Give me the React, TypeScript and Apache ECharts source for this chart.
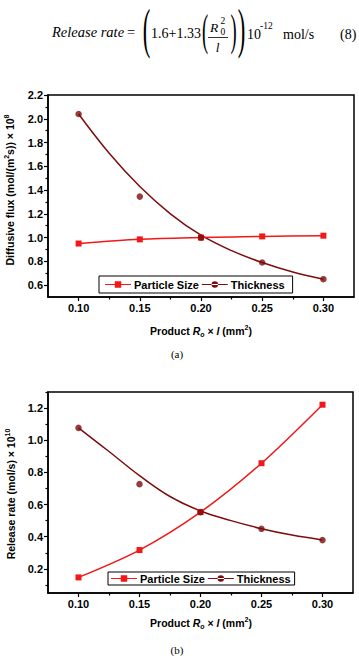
import React, { useEffect, useRef } from 'react';
import * as echarts from 'echarts';

// ---- data ----
const productX = [0.10, 0.15, 0.20, 0.25, 0.30];
const fitX = [0.100, 0.125, 0.150, 0.175, 0.200, 0.225, 0.250, 0.275, 0.300];

const fluxParticleSize = [0.95, 0.985, 1.0, 1.01, 1.016];
const fluxThickness = [2.04, 1.345, 1.0, 0.79, 0.65];
const fluxThicknessFit = [2.04, 1.71, 1.43, 1.20, 1.02, 0.89, 0.79, 0.71, 0.65];

const rateParticleSize = [0.147, 0.317, 0.553, 0.857, 1.221];
const rateThickness = [1.077, 0.727, 0.553, 0.449, 0.379];
const rateThicknessFit = [1.077, 0.93, 0.78, 0.65, 0.56, 0.50, 0.45, 0.41, 0.38];

const xMajorTicks = [0.10, 0.15, 0.20, 0.25, 0.30];
const xMinorTicks = [0.125, 0.175, 0.225, 0.275];
const fluxMajorTicks = [0.6, 0.8, 1.0, 1.2, 1.4, 1.6, 1.8, 2.0, 2.2];
const fluxMinorTicks = [0.7, 0.9, 1.1, 1.3, 1.5, 1.7, 1.9, 2.1];
const rateMajorTicks = [0.2, 0.4, 0.6, 0.8, 1.0, 1.2];
const rateMinorTicks = [0.1, 0.3, 0.5, 0.7, 0.9, 1.1, 1.3];

const seriesNames = ['Particle Size', 'Thickness'];

const SANS = 'Arial, "Liberation Sans", Helvetica, sans-serif';
const SERIF = '"Times New Roman", "Liberation Serif", Times, serif';
const PS_COLOR = '#f01818';
const TH_COLOR = '#7d0d0d';

const SQ_ICON = 'path://M0,3.4h28v1.2H0z M10.5,0.5h7v7h-7z';
const CI_ICON = 'path://M0,3.4h28v1.2H0z M10.5,4a3.5,3.5 0 1,0 7,0a3.5,3.5 0 1,0 -7,0z';

const pairs = (xs: number[], ys: number[]) => xs.map((x, i) => [x, ys[i]]);

function xAxesFor(gridIndex: number) {
  return [
    {
      type: 'value', gridIndex, min: 0.075, max: 0.325, position: 'bottom',
      axisLine: { show: true, onZero: false, lineStyle: { color: '#000', width: 1.5 } },
      axisTick: { show: true, length: 4, customValues: xMajorTicks, lineStyle: { color: '#000', width: 1.2 } },
      axisLabel: {
        customValues: xMajorTicks, formatter: (v: number) => v.toFixed(2), margin: 5,
        fontSize: 11, fontWeight: 'bold', fontFamily: SANS, color: '#000',
      },
      splitLine: { show: false },
    },
    {
      type: 'value', gridIndex, min: 0.075, max: 0.325, position: 'bottom',
      axisLine: { show: false, onZero: false },
      axisTick: { show: true, length: 2.5, customValues: xMinorTicks, lineStyle: { color: '#000', width: 1.2 } },
      axisLabel: { show: false },
      splitLine: { show: false },
    },
  ];
}

function yAxesFor(gridIndex: number, min: number, max: number, major: number[], minor: number[]) {
  return [
    {
      type: 'value', gridIndex, min, max, position: 'left',
      axisLine: { show: true, onZero: false, lineStyle: { color: '#000', width: 1.5 } },
      axisTick: { show: true, length: 4, customValues: major, lineStyle: { color: '#000', width: 1.2 } },
      axisLabel: {
        customValues: major, formatter: (v: number) => v.toFixed(1), margin: 5,
        fontSize: 11, fontWeight: 'bold', fontFamily: SANS, color: '#000',
      },
      splitLine: { show: false },
    },
    {
      type: 'value', gridIndex, min, max, position: 'left',
      axisLine: { show: false, onZero: false },
      axisTick: { show: true, length: 2.5, customValues: minor, lineStyle: { color: '#000', width: 1.2 } },
      axisLabel: { show: false },
      splitLine: { show: false },
    },
  ];
}

function legendFor(left: number, top: number, padding: number[]) {
  return {
    left, top, orient: 'horizontal', selectedMode: false,
    data: [
      { name: seriesNames[0], icon: SQ_ICON },
      { name: seriesNames[1], icon: CI_ICON },
    ],
    itemWidth: 26, itemHeight: 8, itemGap: 3, padding,
    borderColor: '#000', borderWidth: 1, backgroundColor: '#fff',
    textStyle: { fontFamily: SANS, fontWeight: 'bold', fontSize: 11, color: '#000', padding: [0, 0, 0, -2] },
  };
}

const richSans = {
  b: { fontFamily: SANS, fontWeight: 'bold', fontSize: 10.5, lineHeight: 14, color: '#000' },
  i: { fontFamily: SANS, fontWeight: 'bold', fontStyle: 'italic', fontSize: 10.5, lineHeight: 14, color: '#000' },
  sup: { fontFamily: SANS, fontWeight: 'bold', fontSize: 7, lineHeight: 8, verticalAlign: 'top', color: '#000' },
  sub: { fontFamily: SANS, fontWeight: 'bold', fontStyle: 'italic', fontSize: 7, lineHeight: 8, verticalAlign: 'bottom', color: '#000' },
};

const xTitle = '{b|Product }{i|R}{sub|o}{b| × }{i|l}{b| (mm}{sup|2}{b|)}';

function serifText(text: string, x: number, y: number, size: number, opts: any = {}) {
  return {
    type: 'text', x, y, scaleX: opts.scaleX ?? 1, scaleY: opts.scaleY ?? 1,
    style: {
      text, fontFamily: SERIF, fontSize: size, fontStyle: opts.italic ? 'italic' : 'normal',
      fill: '#000', align: opts.align ?? 'left', verticalAlign: 'middle',
    },
  };
}

export default function App() {
  const ref = useRef<HTMLDivElement>(null);
  useEffect(() => {
    if (!ref.current) return;
    const chart = echarts.init(ref.current, undefined, { renderer: 'svg' });
    const option: any = {
      animation: false,
      backgroundColor: '#fff',
      grid: [
        { left: 48, top: 95, width: 306, height: 202, show: true, borderColor: '#000', borderWidth: 1.5, backgroundColor: 'transparent' },
        { left: 48, top: 392, width: 305, height: 201, show: true, borderColor: '#000', borderWidth: 1.5, backgroundColor: 'transparent' },
      ],
      xAxis: [...xAxesFor(0), ...xAxesFor(1)],
      yAxis: [
        ...yAxesFor(0, 0.5, 2.2, fluxMajorTicks, fluxMinorTicks),
        ...yAxesFor(1, 0.05, 1.3, rateMajorTicks, rateMinorTicks),
      ],
      legend: [legendFor(99, 276, [3, 8, 3, 6]), legendFor(108, 572, [1, 4, 1, 3])],
      series: [
        {
          name: seriesNames[0], type: 'line', xAxisIndex: 0, yAxisIndex: 0, smooth: 0.3,
          data: pairs(productX, fluxParticleSize), symbol: 'rect', symbolSize: 6,
          itemStyle: { color: PS_COLOR }, lineStyle: { color: PS_COLOR, width: 1.5 }, z: 3,
        },
        {
          name: seriesNames[1], type: 'line', xAxisIndex: 0, yAxisIndex: 0, smooth: 0.4,
          data: pairs(fitX, fluxThicknessFit), showSymbol: false, symbol: 'none',
          itemStyle: { color: TH_COLOR }, lineStyle: { color: TH_COLOR, width: 1.5 }, z: 2,
        },
        {
          name: seriesNames[1], type: 'scatter', xAxisIndex: 0, yAxisIndex: 0,
          data: pairs(productX, fluxThickness), symbol: 'circle', symbolSize: 6.5,
          itemStyle: { color: TH_COLOR }, z: 4,
        },
        {
          name: seriesNames[0], type: 'line', xAxisIndex: 2, yAxisIndex: 2, smooth: 0.3,
          data: pairs(productX, rateParticleSize), symbol: 'rect', symbolSize: 6,
          itemStyle: { color: PS_COLOR }, lineStyle: { color: PS_COLOR, width: 1.5 }, z: 3,
        },
        {
          name: seriesNames[1], type: 'line', xAxisIndex: 2, yAxisIndex: 2, smooth: 0.4,
          data: pairs(fitX, rateThicknessFit), showSymbol: false, symbol: 'none',
          itemStyle: { color: TH_COLOR }, lineStyle: { color: TH_COLOR, width: 1.5 }, z: 2,
        },
        {
          name: seriesNames[1], type: 'scatter', xAxisIndex: 2, yAxisIndex: 2,
          data: pairs(productX, rateThickness), symbol: 'circle', symbolSize: 6.5,
          itemStyle: { color: TH_COLOR }, z: 4,
        },
      ],
      graphic: [
        // equation (8)
        serifText('Release rate', 52, 32, 14.5, { italic: true }),
        serifText('=', 127, 32, 14.5),
        serifText('(', 146.5, 29, 54, { align: 'center', scaleX: 0.42 }),
        serifText('1.6+1.33', 151, 33, 14),
        serifText('(', 205, 30, 44, { align: 'center', scaleX: 0.42 }),
        serifText('R', 210, 27, 13.5, { italic: true }),
        serifText('2', 220.5, 21, 9.5),
        serifText('0', 220.5, 32, 9.5),
        { type: 'line', shape: { x1: 208, y1: 37.5, x2: 228, y2: 37.5 }, style: { stroke: '#000', lineWidth: 0.8 } },
        serifText('l', 217.5, 47, 13.5, { italic: true, align: 'center' }),
        serifText(')', 233.5, 30, 44, { align: 'center', scaleX: 0.42 }),
        serifText(')', 241.5, 29, 54, { align: 'center', scaleX: 0.42 }),
        serifText('10', 247, 34, 14),
        serifText('-12', 260, 26, 9.5),
        serifText('mol/s', 283, 34, 14),
        serifText('(8)', 340, 34, 14),
        // axis titles
        {
          type: 'text', x: 10, y: 190, rotation: Math.PI / 2,
          style: {
            text: '{b|Diffusive flux (mol/(m}{sup|2}{b|s)) × 10}{sup|8}',
            rich: richSans, align: 'center', verticalAlign: 'middle',
          },
        },
        {
          type: 'text', x: 11, y: 494, rotation: Math.PI / 2,
          style: {
            text: '{b|Release rate (mol/s) × 10}{sup|10}',
            rich: richSans, align: 'center', verticalAlign: 'middle',
          },
        },
        { type: 'text', x: 201, y: 331, style: { text: xTitle, rich: richSans, align: 'center', verticalAlign: 'middle' } },
        { type: 'text', x: 201, y: 623, style: { text: xTitle, rich: richSans, align: 'center', verticalAlign: 'middle' } },
        serifText('(a)', 177, 354, 11, { align: 'center' }),
        serifText('(b)', 177, 650, 11, { align: 'center' }),
      ],
    };
    chart.setOption(option);
    return () => chart.dispose();
  }, []);
  return (
    <div
      ref={ref}
      style={{ position: 'fixed', left: 0, top: 0, width: 359, height: 656, background: '#fff' }}
    />
  );
}
